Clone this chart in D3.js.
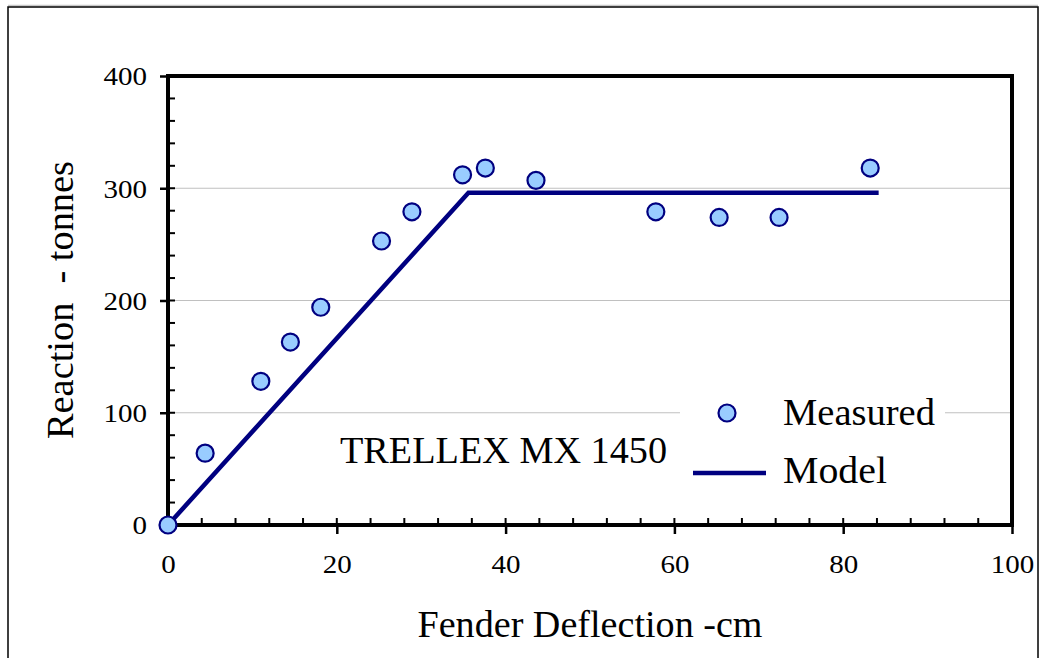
<!DOCTYPE html>
<html>
<head>
<meta charset="utf-8">
<script src="https://cdn.jsdelivr.net/npm/d3@7"></script>
<style>
  html, body { margin: 0; padding: 0; background: #fff; }
  svg { display: block; }
  text { font-family: "Liberation Serif", "Times New Roman", "DejaVu Serif", serif; fill: #000; }
</style>
</head>
<body>
<svg id="chart" width="1040" height="658"></svg>
<script>
// Measured fender reaction vs deflection
const measuredDeflection = [0, 4.4, 11.0, 14.5, 18.1, 25.3, 28.9, 34.9, 37.6, 43.6, 57.8, 65.3, 72.4, 83.2];
const measuredReaction   = [0, 64, 128, 163, 194, 253, 279, 312, 318, 307, 279, 274, 274, 318];

// Bilinear model curve
const modelDeflection = [0, 35.6, 84.2];
const modelReaction   = [0, 296, 296];

const xTicks = [0, 20, 40, 60, 80, 100];
const yTicks = [0, 100, 200, 300, 400];
const xMinorTicks = d3.range(0, 100.001, 4);
const yMinorTicks = d3.range(0, 400.001, 20);

const svg = d3.select("#chart");
const plotLeft = 168, plotRight = 1012, plotTop = 76, plotBottom = 525;

const x = d3.scaleLinear().domain([0, 100]).range([plotLeft, plotRight]);
const y = d3.scaleLinear().domain([0, 400]).range([plotBottom, plotTop]);

const navy = "#000080";
const fillBlue = "#99CCFF";

// Outer frame of the chart
svg.append("line").attr("x1", 8).attr("x2", 1038).attr("y1", 5.5).attr("y2", 5.5)
  .attr("stroke", "#c8c8c8").attr("stroke-width", 1.5);
svg.append("rect")
  .attr("x", 8).attr("y", 7).attr("width", 1030).attr("height", 700)
  .attr("fill", "none").attr("stroke", "#000").attr("stroke-width", 1.5);

// Horizontal gridlines
svg.append("g").selectAll("line")
  .data(yTicks.filter(d => d > 0 && d < 400))
  .join("line")
  .attr("x1", plotLeft).attr("x2", plotRight)
  .attr("y1", d => y(d)).attr("y2", d => y(d))
  .attr("stroke", "#c0c0c0").attr("stroke-width", 1.2);

// Minor ticks (inside the plot)
svg.append("g").selectAll("line")
  .data(yMinorTicks)
  .join("line")
  .attr("x1", plotLeft).attr("x2", plotLeft + 7)
  .attr("y1", d => y(d)).attr("y2", d => y(d))
  .attr("stroke", "#000").attr("stroke-width", 2);
svg.append("g").selectAll("line")
  .data(xMinorTicks)
  .join("line")
  .attr("x1", d => x(d)).attr("x2", d => x(d))
  .attr("y1", plotBottom).attr("y2", plotBottom - 7)
  .attr("stroke", "#000").attr("stroke-width", 2);

// Major axes with outside ticks
const yAxis = d3.axisLeft(y).tickValues(yTicks).tickSize(8).tickPadding(13).tickFormat(d3.format("d"));
const xAxis = d3.axisBottom(x).tickValues(xTicks).tickSize(9).tickFormat(d3.format("d"));

const gy = svg.append("g").attr("transform", `translate(${plotLeft},0)`).call(yAxis);
const gx = svg.append("g").attr("transform", `translate(0,${plotBottom})`).call(xAxis);
[gy, gx].forEach(g => {
  g.attr("font-family", null);
  g.select(".domain").remove();
  g.selectAll(".tick line").attr("stroke", "#000").attr("stroke-width", 2.5);
  g.selectAll(".tick text")
    .attr("font-size", 26).attr("fill", "#000")
    .attr("textLength", d => String(d).length * 14.5)
    .attr("lengthAdjust", "spacingAndGlyphs");
});
gy.selectAll(".tick text").attr("dy", "0.34em");
gx.selectAll(".tick text").attr("y", 48).attr("dy", 0);

// Plot frame
svg.append("rect")
  .attr("x", plotLeft).attr("y", plotTop)
  .attr("width", plotRight - plotLeft).attr("height", plotBottom - plotTop)
  .attr("fill", "none").attr("stroke", "#000").attr("stroke-width", 4);

// Legend background
svg.append("rect")
  .attr("x", 680).attr("y", 388).attr("width", 265).attr("height", 110)
  .attr("fill", "#fff");

// Model line
const line = d3.line().x(d => x(d[0])).y(d => y(d[1]));
svg.append("path")
  .datum(modelDeflection.map((d, i) => [d, modelReaction[i]]))
  .attr("d", line)
  .attr("fill", "none").attr("stroke", navy).attr("stroke-width", 4.5)
  .attr("stroke-linejoin", "miter");

// Measured points
svg.append("g").selectAll("circle")
  .data(measuredDeflection.map((d, i) => [d, measuredReaction[i]]))
  .join("circle")
  .attr("cx", d => x(d[0])).attr("cy", d => y(d[1]))
  .attr("r", 8.5)
  .attr("fill", fillBlue).attr("stroke", navy).attr("stroke-width", 2.2);

// Legend
svg.append("circle").attr("cx", 727).attr("cy", 413).attr("r", 8.5)
  .attr("fill", fillBlue).attr("stroke", navy).attr("stroke-width", 2.2);
svg.append("text").attr("x", 783).attr("y", 425).attr("font-size", 38)
  .attr("textLength", 152).attr("lengthAdjust", "spacingAndGlyphs").text("Measured");
svg.append("line").attr("x1", 693).attr("x2", 766).attr("y1", 473).attr("y2", 473)
  .attr("stroke", navy).attr("stroke-width", 4.5);
svg.append("text").attr("x", 783).attr("y", 483).attr("font-size", 38)
  .attr("textLength", 104).attr("lengthAdjust", "spacingAndGlyphs").text("Model");

// Annotation
svg.append("text").attr("x", 340).attr("y", 463).attr("font-size", 38)
  .attr("textLength", 327).attr("lengthAdjust", "spacingAndGlyphs").text("TRELLEX MX 1450");

// Axis titles
svg.append("text")
  .attr("transform", "translate(73,300) rotate(-90)")
  .attr("text-anchor", "middle").attr("font-size", 38)
  .attr("textLength", 278).attr("lengthAdjust", "spacingAndGlyphs")
  .style("white-space", "pre")
  .text("Reaction  - tonnes");
svg.append("text")
  .attr("x", 590).attr("y", 637)
  .attr("text-anchor", "middle").attr("font-size", 38)
  .attr("textLength", 345).attr("lengthAdjust", "spacingAndGlyphs")
  .text("Fender Deflection -cm");
</script>
</body>
</html>
